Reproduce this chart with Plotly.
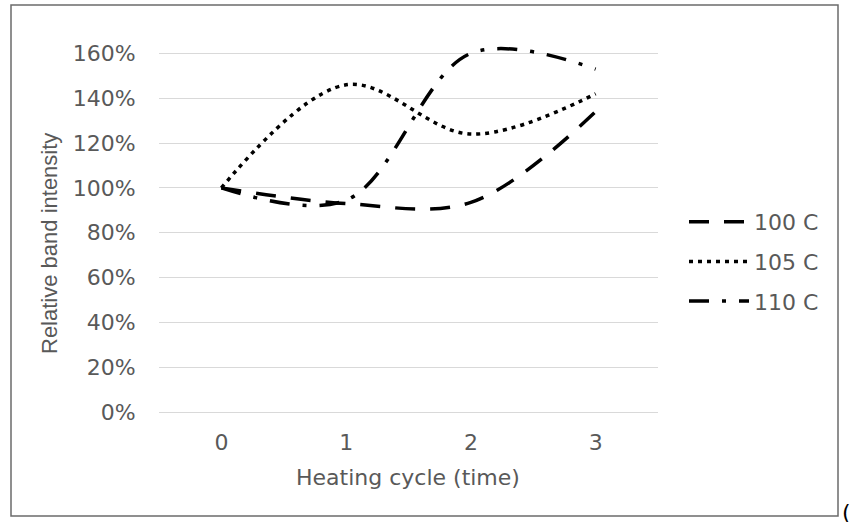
import plotly.graph_objects as go

# ---- data ----
cycles = [0, 1, 2, 3]
tick_labels = ["0", "1", "2", "3"]
series_names = ["100 C", "105 C", "110 C"]
s100 = [1.00, 0.93, 0.935, 1.34]
s105 = [1.00, 1.46, 1.24, 1.42]
s110 = [1.00, 0.945, 1.60, 1.53]
y_ticks = [0, 0.2, 0.4, 0.6, 0.8, 1.0, 1.2, 1.4, 1.6]

W, H = 850, 522
L, R, T, B = 159, 192, 31, 110
PW, PH = W - L - R, H - T - B

def px_x(p):
    return (p - L) / PW

def px_y(p):
    return (H - B - p) / PH

TXT = "#595959"
FONT_H = "DejaVu Sans, sans-serif"
FONT_V = "Liberation Sans, Arial, sans-serif"

dashes = ["20px,15px", "4px,5px", "20px,13px,4px,13px"]
fig = go.Figure()
for name, vals, d in zip(series_names, [s100, s105, s110], dashes):
    fig.add_trace(go.Scatter(
        x=cycles, y=vals, name=name, mode="lines",
        line=dict(color="black", width=3.5, dash=d, shape="spline", smoothing=1),
        legendgroup=name,
    ))

fig.update_layout(
    width=W, height=H,
    margin=dict(l=L, r=R, t=T, b=B, pad=0),
    paper_bgcolor="white", plot_bgcolor="white",
    font=dict(family=FONT_H, size=22, color=TXT),
    showlegend=True,
    legend=dict(
        x=px_x(684), xanchor="left", y=px_y(201), yanchor="top",
        font=dict(family=FONT_H, size=22, color=TXT),
        itemwidth=60, tracegroupgap=8, bgcolor="rgba(0,0,0,0)",
    ),
    xaxis=dict(
        range=[-0.5, 3.5], tickmode="array", tickvals=cycles, ticktext=tick_labels,
        showgrid=False, zeroline=False, showline=False,
        ticks="outside", ticklen=11, tickcolor="rgba(0,0,0,0)",
        tickfont=dict(family=FONT_H, size=22, color=TXT),
        fixedrange=True,
    ),
    yaxis=dict(
        range=[0, 1.7], tickmode="array", tickvals=y_ticks, tickformat=".0%",
        showgrid=True, gridcolor="#d9d9d9", gridwidth=1.3,
        zeroline=True, zerolinecolor="#d9d9d9", zerolinewidth=1.3, showline=False,
        ticks="outside", ticklen=18, tickcolor="rgba(0,0,0,0)",
        tickfont=dict(family=FONT_H, size=22, color=TXT),
        fixedrange=True,
    ),
    shapes=[dict(
        type="rect", xref="paper", yref="paper",
        x0=px_x(11), x1=px_x(838), y0=px_y(516), y1=px_y(5),
        line=dict(color="#6b6b6b", width=1.5), fillcolor="rgba(0,0,0,0)", layer="below",
    )],
    annotations=[
        dict(text="Heating cycle (time)", xref="paper", yref="paper",
             x=px_x(408), y=px_y(478), xanchor="center", yanchor="middle",
             showarrow=False, font=dict(family=FONT_H, size=22, color=TXT)),
        dict(text="Relative band intensity", xref="paper", yref="paper",
             x=px_x(49), y=px_y(244), xanchor="center", yanchor="middle", textangle=-90,
             showarrow=False, font=dict(family=FONT_V, size=22, color=TXT)),
        dict(text="(", xref="paper", yref="paper", x=px_x(840), y=px_y(512),
             xanchor="left", yanchor="middle", showarrow=False,
             font=dict(family=FONT_H, size=22, color="black")),
    ],
)

fig.write_html("out.html", config={"displayModeBar": False},
               post_script="document.body.style.margin='0px';")
